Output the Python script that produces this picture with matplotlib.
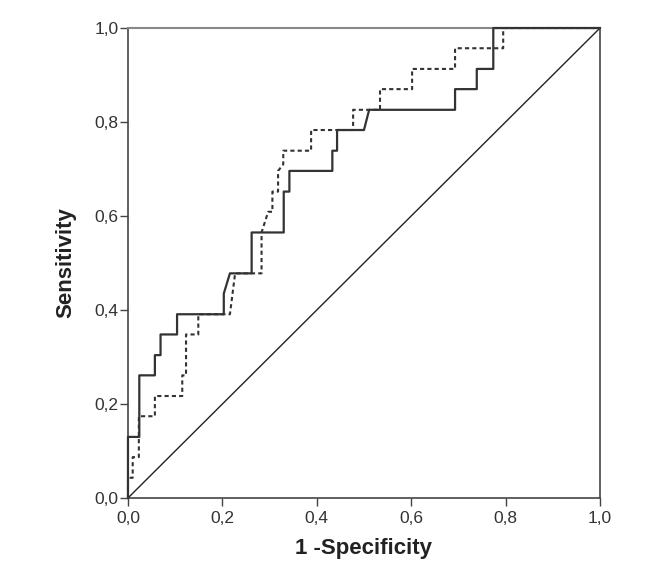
import matplotlib
matplotlib.use("Agg")
import matplotlib.pyplot as plt
from matplotlib.ticker import FuncFormatter

plt.rcParams['font.family'] = ['Liberation Sans', 'DejaVu Sans']

# ROC curve 1 (solid) - step vertices
solid_fpr = [0.0, 0.0, 0.024, 0.024, 0.057, 0.057, 0.069, 0.069, 0.104, 0.104,
             0.203, 0.203, 0.216, 0.262, 0.262, 0.330, 0.330, 0.342, 0.342,
             0.433, 0.433, 0.443, 0.443, 0.500, 0.511, 0.693, 0.693, 0.739,
             0.739, 0.774, 0.774, 1.0]
solid_tpr = [0.0, 0.130, 0.130, 0.261, 0.261, 0.304, 0.304, 0.348, 0.348, 0.391,
             0.391, 0.435, 0.478, 0.478, 0.565, 0.565, 0.652, 0.652, 0.696,
             0.696, 0.739, 0.739, 0.783, 0.783, 0.826, 0.826, 0.870, 0.870,
             0.913, 0.913, 1.0, 1.0]

# ROC curve 2 (dashed)
dash_fpr = [0.0, 0.0, 0.010, 0.010, 0.023, 0.023, 0.057, 0.057, 0.115, 0.115,
            0.123, 0.123, 0.149, 0.149, 0.216, 0.227, 0.283, 0.283, 0.297,
            0.306, 0.306, 0.318, 0.318, 0.329, 0.329, 0.388, 0.388, 0.477,
            0.477, 0.534, 0.534, 0.602, 0.602, 0.693, 0.693, 0.795, 0.795, 1.0]
dash_tpr = [0.0, 0.043, 0.043, 0.087, 0.087, 0.174, 0.174, 0.217, 0.217, 0.261,
            0.261, 0.348, 0.348, 0.391, 0.391, 0.478, 0.478, 0.565, 0.609,
            0.609, 0.652, 0.652, 0.696, 0.710, 0.739, 0.739, 0.783, 0.783,
            0.826, 0.826, 0.870, 0.870, 0.913, 0.913, 0.957, 0.957, 1.0, 1.0]

ref_line = [0.0, 1.0]
ticks = [0.0, 0.2, 0.4, 0.6, 0.8, 1.0]

fig = plt.figure(figsize=(6.59, 5.78), dpi=100)
ax = fig.add_axes([0.1942, 0.1384, 0.7162, 0.8131])

ax.plot(ref_line, ref_line, color='#222222', lw=1.0, clip_on=False, zorder=3)
ax.plot(dash_fpr, dash_tpr, color='#333333', lw=1.5, linestyle=(0, (2, 1.5)),
        clip_on=False, zorder=4)
ax.plot(solid_fpr, solid_tpr, color='#333333', lw=1.6, clip_on=False, zorder=5)

ax.set_xlim(0, 1)
ax.set_ylim(0, 1)
ax.set_xticks(ticks)
ax.set_yticks(ticks)
fmt = FuncFormatter(lambda v, p: f"{v:.1f}".replace('.', ','))
ax.xaxis.set_major_formatter(fmt)
ax.yaxis.set_major_formatter(fmt)
ax.tick_params(axis='both', direction='out', length=6, width=1.0,
               color='#444444', labelsize=12.5, labelcolor='#333333')
ax.tick_params(axis='y', pad=1)
ax.tick_params(axis='x', pad=3)

for side in ['left', 'bottom', 'right']:
    ax.spines[side].set_color('#444444')
    ax.spines[side].set_linewidth(1.2)
ax.spines['top'].set_color('#888888')
ax.spines['top'].set_linewidth(1.5)

ax.set_xlabel('1 -Specificity', fontsize=16, fontweight='bold', color='#222222', labelpad=9)
ax.set_ylabel('Sensitivity', fontsize=16, fontweight='bold', color='#222222', labelpad=13)

fig.savefig('out.png', dpi=100)
